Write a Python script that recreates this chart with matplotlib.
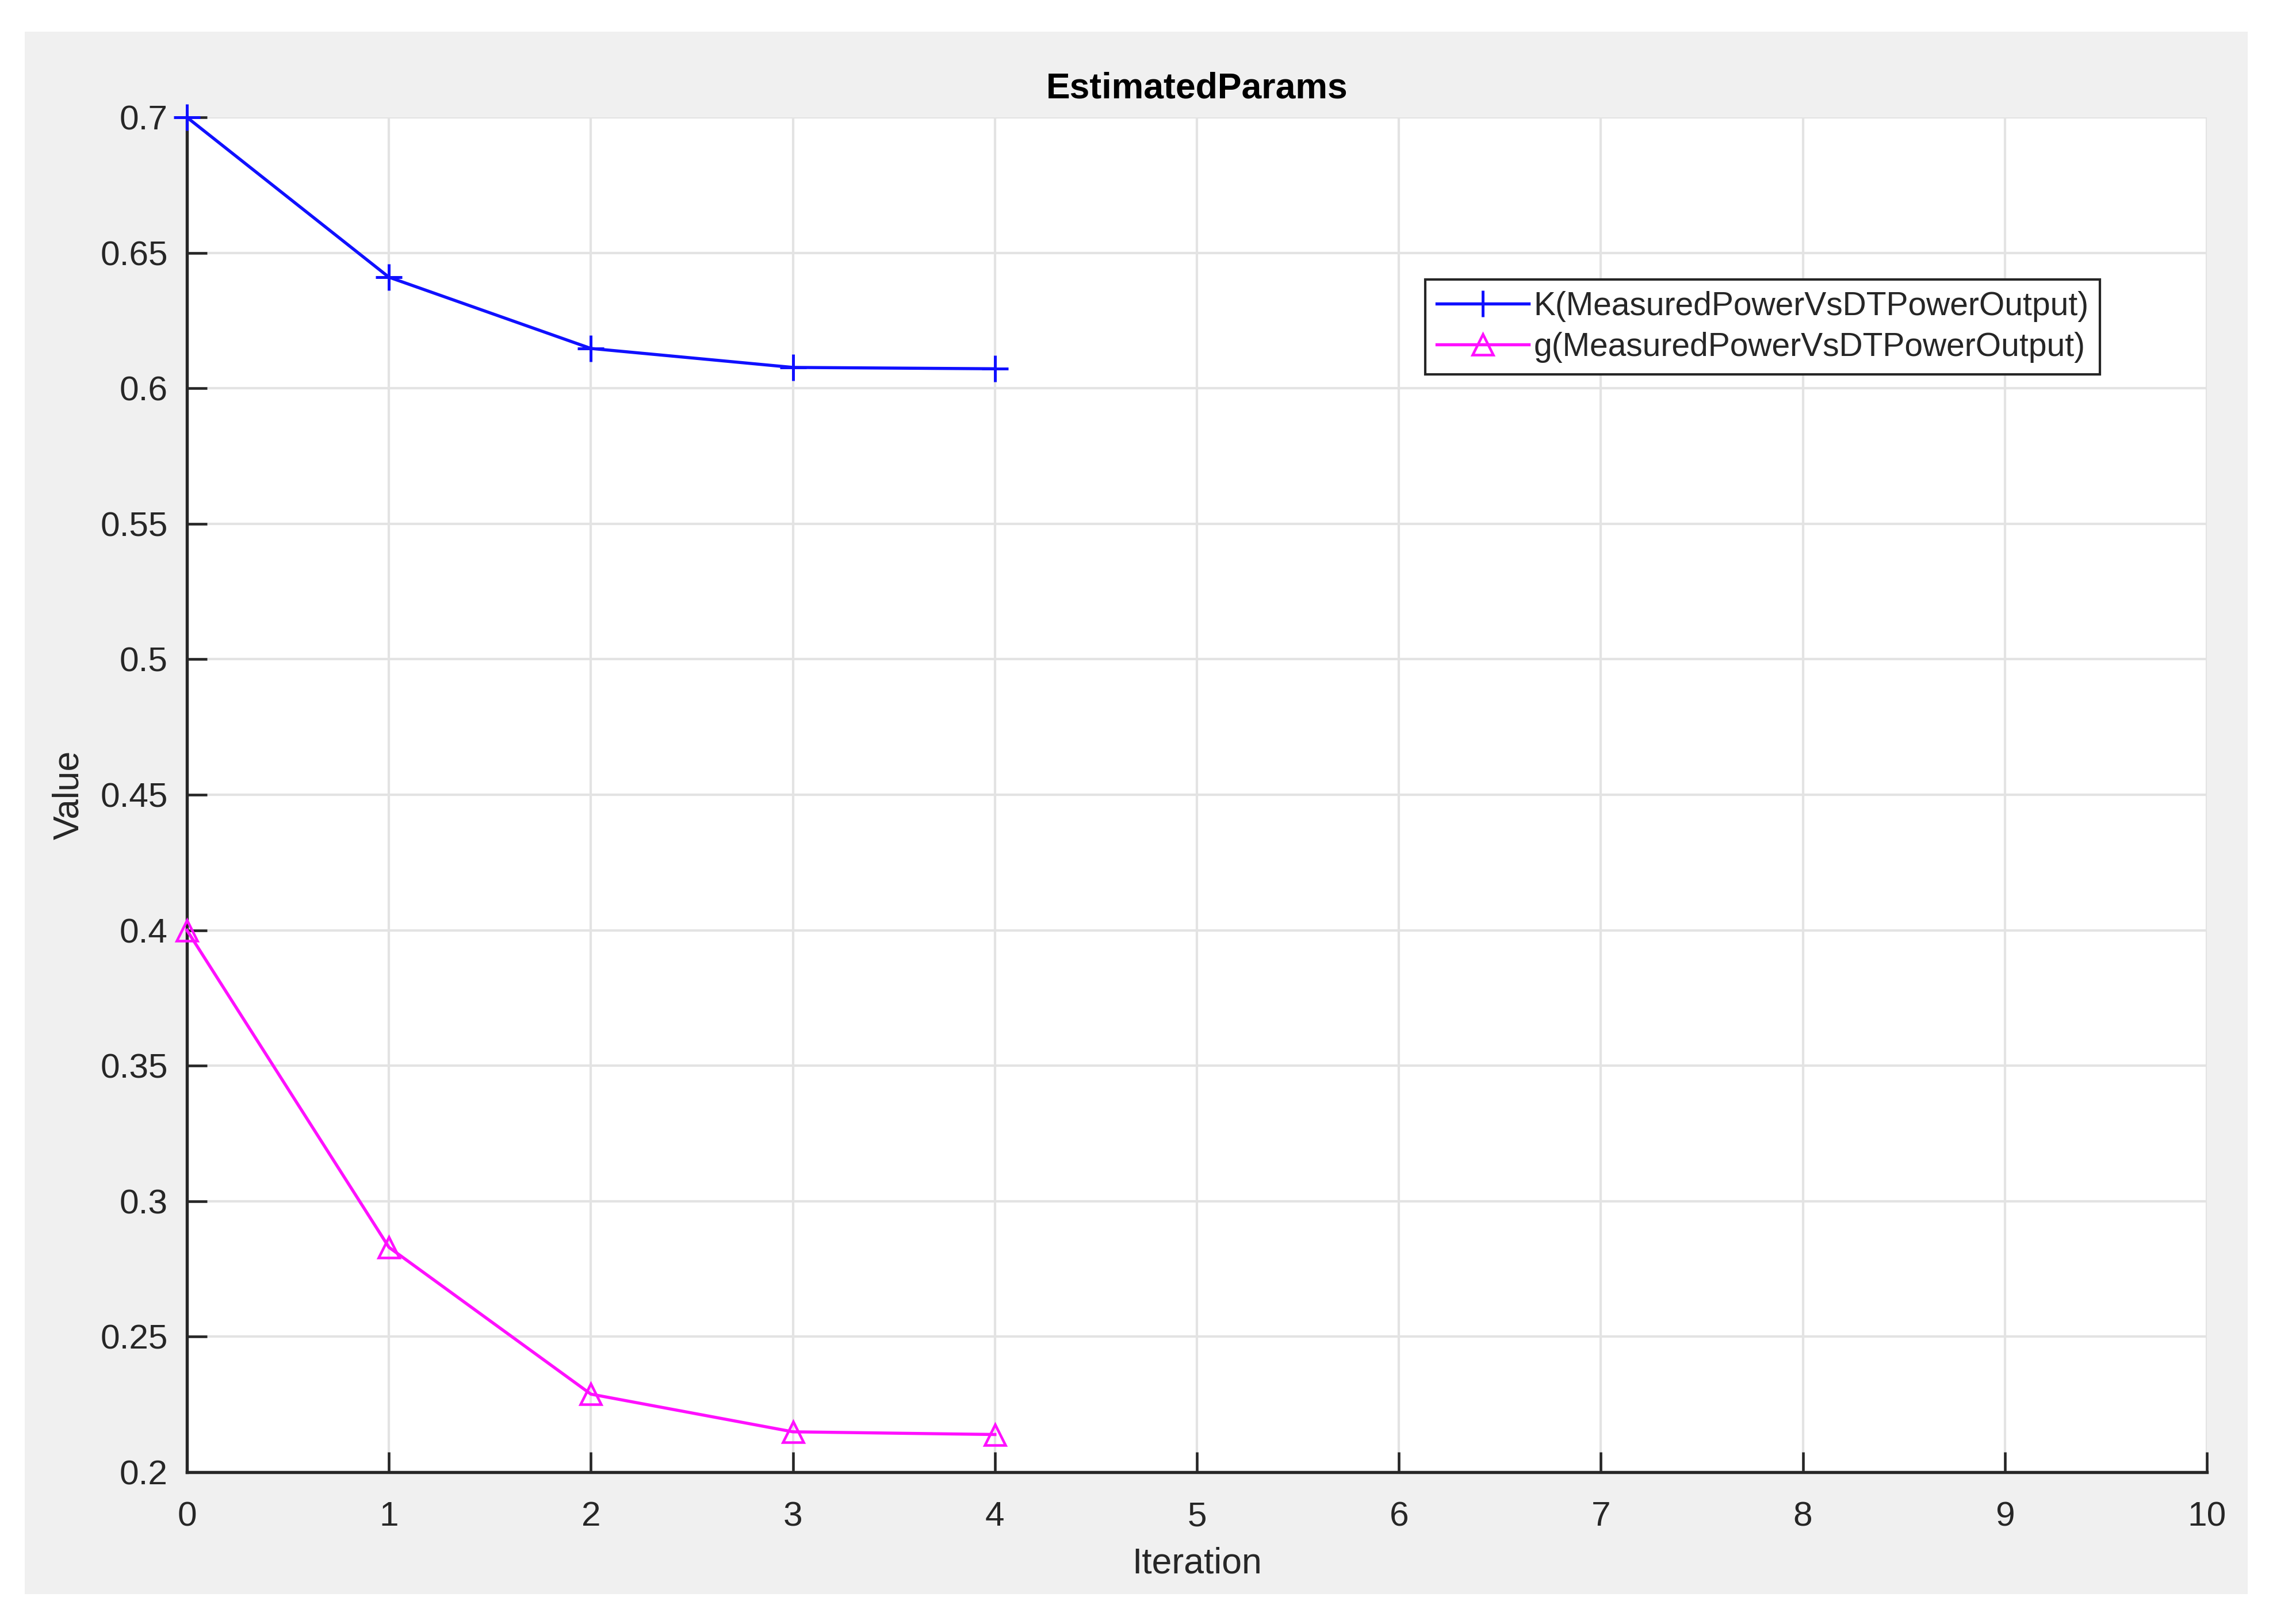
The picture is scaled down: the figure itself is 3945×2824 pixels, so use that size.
import matplotlib
matplotlib.use("Agg")
import matplotlib.pyplot as plt
from matplotlib.patches import Rectangle
from matplotlib.ticker import FormatStrFormatter

# values
iteration = [0, 1, 2, 3, 4]
k_values = [0.700, 0.641, 0.6147, 0.6077, 0.6072]
g_values = [0.400, 0.283, 0.2288, 0.2149, 0.2139]
k_label = "K(MeasuredPowerVsDTPowerOutput)"
g_label = "g(MeasuredPowerVsDTPowerOutput)"
x_ticks = list(range(0, 11))
y_ticks = [0.2, 0.25, 0.3, 0.35, 0.4, 0.45, 0.5, 0.55, 0.6, 0.65, 0.7]

INK = "#262626"
plt.rcParams["font.family"] = ["Liberation Sans", "DejaVu Sans"]

W, H = 3945, 2824
fig = plt.figure(figsize=(W / 300, H / 300), dpi=300, facecolor="white")

# gray MATLAB-style figure panel
fig.patches.append(Rectangle((43 / W, 1 - 2772 / H), (3908 - 43) / W, (2772 - 55) / H,
                             transform=fig.transFigure, facecolor="#f0f0f0",
                             edgecolor="none", zorder=-10))

ax = fig.add_axes([325 / W, 1 - 2560 / H, (3837 - 325) / W, (2560 - 204) / H])
ax.set_facecolor("white")

ax.plot(iteration, k_values, color="#1010ff", lw=1.3, marker="+", ms=11, mew=1.2,
        label=k_label, clip_on=False, zorder=3)
ax.plot(iteration, g_values, color="#ff10ff", lw=1.3, marker="^", ms=8.5, mew=1.1,
        mfc="none", label=g_label, clip_on=False, zorder=3)

ax.set_xlim(0, 10)
ax.set_ylim(0.2, 0.7)
ax.set_xticks(x_ticks)
ax.set_yticks(y_ticks)
ax.yaxis.set_major_formatter(FormatStrFormatter("%g"))
ax.grid(True, color="#e3e3e3", lw=1.0)
ax.set_axisbelow(True)

for side in ("top", "right"):
    ax.spines[side].set_visible(False)
for side in ("left", "bottom"):
    ax.spines[side].set_color(INK)
    ax.spines[side].set_linewidth(1.3)
ax.tick_params(direction="in", length=8.5, width=1.1, color=INK, labelcolor=INK,
               labelsize=14.5)
ax.tick_params(axis="x", pad=12)
ax.tick_params(axis="y", pad=8)

ax.set_title("EstimatedParams", fontsize=15, fontweight="bold", color="black", pad=8)
ax.set_xlabel("Iteration", fontsize=15, color=INK, labelpad=6)
ax.set_ylabel("Value", fontsize=15, color=INK, labelpad=6)

leg = ax.legend(loc="upper left", bbox_to_anchor=((2478 - 325) / (3837 - 325), (2560 - 486) / (2560 - 204)),
                fontsize=13.7, frameon=True, fancybox=False, framealpha=1,
                edgecolor=INK, handlelength=2.8, handletextpad=0.15,
                borderpad=0.35, labelspacing=0.3, borderaxespad=0)
leg.get_frame().set_linewidth(1.0)
for t in leg.get_texts():
    t.set_color(INK)

fig.savefig("out.png", dpi=300, facecolor="white")
